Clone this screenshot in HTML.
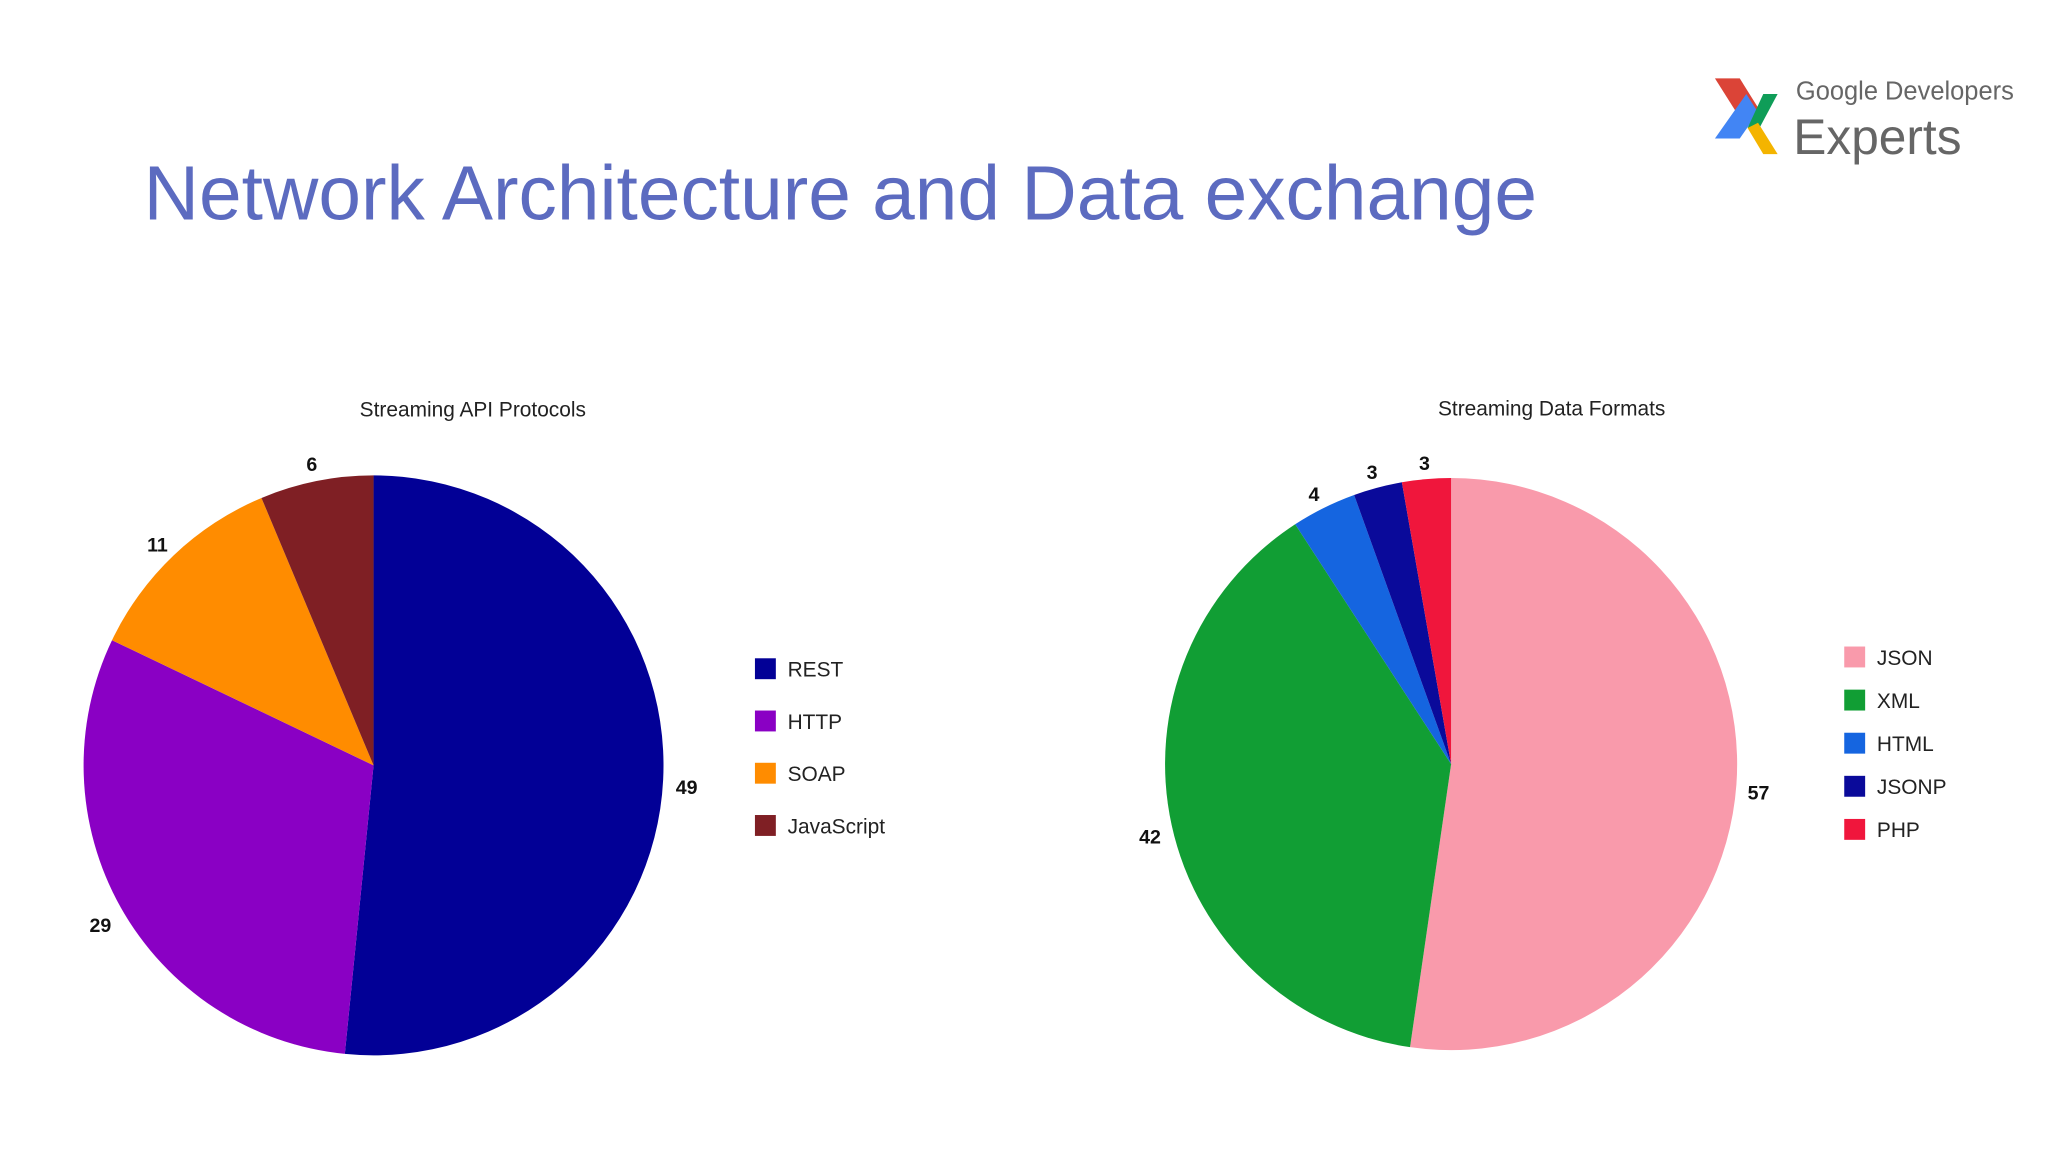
<!DOCTYPE html>
<html><head><meta charset="utf-8"><style>
html,body{margin:0;padding:0;background:#fff;}
svg{display:block;font-family:"Liberation Sans",sans-serif;}
</style></head><body>
<svg width="2048" height="1152" viewBox="0 0 1568 882">
<rect width="1568" height="882" fill="#fff"/>
<text x="110" y="168" font-size="58.7" fill="#5c6bc0">Network Architecture and Data exchange</text>
<g>
<polygon points="1313,60 1332,60 1347,84 1337,98" fill="#db4437"/>
<polygon points="1337,72 1346,86 1332,106 1313,106" fill="#4285f4"/>
<polygon points="1350,72 1361,72 1346,100 1338,98" fill="#0f9d58"/>
<polygon points="1338,98 1346,94 1361,118 1350,118" fill="#f4b400"/>
<text x="1375" y="76" font-size="19.5" fill="#666">Google Developers</text>
<text x="1373" y="118" font-size="38" fill="#666">Experts</text>
</g>
<text x="362" y="319" font-size="16" text-anchor="middle" fill="#222">Streaming API Protocols</text>
<text x="1188" y="318" font-size="16" text-anchor="middle" fill="#222">Streaming Data Formats</text>
<g id="pie1"></g><g id="pie2"></g>
<g id="leg1"></g><g id="leg2"></g>
</svg>
<script>
const cats1=["REST","HTTP","SOAP","JavaScript"];
const vals1=[49,29,11,6];
const cols1=["#020096","#8a00c4","#ff8c00","#7f1f24"];
const cats2=["JSON","XML","HTML","JSONP","PHP"];
const vals2=[57,42,4,3,3];
const cols2=["#f99aab","#119e34","#1565e0","#0a0a9a","#f0163c"];
const NS="http://www.w3.org/2000/svg";
function mk(t,a){const e=document.createElementNS(NS,t);for(const k in a)e.setAttribute(k,a[k]);return e;}
function pie(g,cats,vals,cols,cx,cy,r,lr){
  const tot=vals.reduce((a,b)=>a+b,0);let a0=0;
  vals.forEach((v,i)=>{
    const a1=a0+v/tot*2*Math.PI;
    const x0=cx+r*Math.sin(a0),y0=cy-r*Math.cos(a0),x1=cx+r*Math.sin(a1),y1=cy-r*Math.cos(a1);
    const p=mk("path",{d:`M${cx},${cy}L${x0},${y0}A${r},${r} 0 ${a1-a0>Math.PI?1:0} 1 ${x1},${y1}Z`,fill:cols[i]});
    
    
    g.appendChild(p);
    const m=(a0+a1)/2;
    const t=mk("text",{x:cx+lr*Math.sin(m),y:cy-lr*Math.cos(m)+10,"font-size":15,"font-weight":"bold","text-anchor":"middle",fill:"#111"});
    t.textContent=v;
    
    
    g.appendChild(t);
    a0=a1;
  });
}
function legend(g,cats,cols,x,y,dy){
  cats.forEach((c,i)=>{
    const r=mk("rect",{x:x,y:y+i*dy,width:16,height:16,fill:cols[i]});
    
    
    g.appendChild(r);
    const t=mk("text",{x:x+25,y:y+i*dy+14,"font-size":16,fill:"#222"});
    t.textContent=c;
    
    
    g.appendChild(t);
  });
}
pie(document.getElementById('pie1'),cats1,vals1,cols1,286,586,222,240);
pie(document.getElementById('pie2'),cats2,vals2,cols2,1111,585,219,236);
legend(document.getElementById('leg1'),cats1,cols1,578,504,40);
legend(document.getElementById('leg2'),cats2,cols2,1412,495,33);
</script>
</body></html>
